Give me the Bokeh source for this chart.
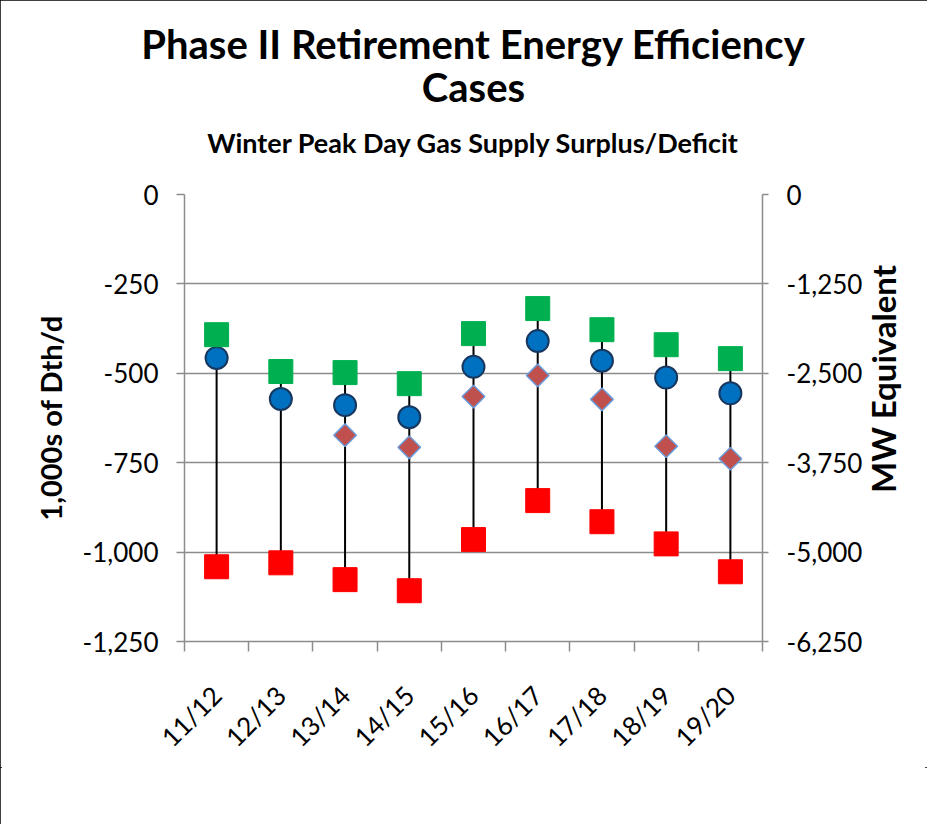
import math
from bokeh.plotting import figure
from bokeh.layouts import column
from bokeh.models import (Range1d, LinearAxis, FixedTicker, NumeralTickFormatter,
                          Legend, LegendItem, Title, ColumnDataSource)
from bokeh.embed import file_html
from bokeh.resources import INLINE

seasons = ["11/12", "12/13", "13/14", "14/15", "15/16", "16/17", "17/18", "18/19", "19/20"]
maximum = [-1041, -1030, -1077, -1108, -965, -856, -915, -977, -1055]
higher = [-457, -572, -673, -707, -565, -506, -573, -704, -739]
reference = [-457, -572, -589, -623, -482, -410, -465, -512, -556]
nominal = [-392, -495, -498, -529, -389, -319, -378, -420, -459]
left_ticks = [0, -250, -500, -750, -1000, -1250]
right_ticks = [0, -1250, -2500, -3750, -5000, -6250]

FONT = "Lato"
GRAY = "#8c8c8c"

x = [i + 0.5 for i in range(len(seasons))]
boundaries = list(range(len(seasons) + 1))

src = ColumnDataSource(dict(x=x, season=seasons, maximum=maximum, higher=higher,
                            reference=reference, nominal=nominal,
                            rot=[math.pi / 4] * len(seasons)))

p = figure(frame_width=578, frame_height=447,
           x_range=Range1d(0, len(seasons)),
           y_range=Range1d(min(left_ticks), max(left_ticks)),
           output_backend="svg", toolbar_location=None, title=None,
           min_border_left=184, min_border_right=165, min_border_top=192,
           min_border_bottom=126, outline_line_color=None)

p.extra_y_ranges = {"mw": Range1d(min(right_ticks), max(right_ticks))}

# high-low lines
p.segment(x0="x", y0="maximum", x1="x", y1="nominal", source=src,
          line_color="black", line_width=2)

p.scatter("x", "maximum", source=src, marker="square", size=24,
          fill_color="#FF0000", line_color="#FF0000")
p.scatter("x", "higher", source=src, marker="square", size=16, angle="rot",
          fill_color="#C0504D", line_color="#6A9BDB", line_width=1.5)
p.scatter("x", "reference", source=src, marker="circle", size=22,
          fill_color="#0070C0", line_color="#17375E", line_width=2)
p.scatter("x", "nominal", source=src, marker="square", size=24,
          fill_color="#00B050", line_color="#00B050")

# x axis
xa = p.xaxis[0]
xa.ticker = FixedTicker(ticks=x, minor_ticks=boundaries)
xa.major_label_overrides = {xx: s for xx, s in zip(x, seasons)}
xa.major_tick_out = 0
xa.major_tick_in = 0
xa.minor_tick_out = 10
xa.minor_tick_in = 0
xa.minor_tick_line_color = GRAY
xa.minor_tick_line_width = 1.5
xa.axis_line_color = GRAY
xa.axis_line_width = 1.5
xa.major_label_orientation = math.pi / 4
xa.major_label_standoff = 39
xa.major_label_text_font = FONT
xa.major_label_text_font_size = "26px"
xa.major_label_text_color = "black"

# left axis
ya = p.yaxis[0]
ya.ticker = FixedTicker(ticks=left_ticks)
ya.formatter = NumeralTickFormatter(format="0,0")
ya.axis_label = "1,000s of Dth/d"
ya.axis_label_text_font = FONT
ya.axis_label_text_font_style = "bold"
ya.axis_label_text_font_size = "29px"
ya.axis_label_text_color = "black"
ya.axis_label_standoff = 12
ya.major_label_text_font = FONT
ya.major_label_text_font_size = "26px"
ya.major_label_text_color = "black"
ya.major_label_standoff = 18
ya.major_tick_out = 8
ya.major_tick_in = 0
ya.minor_tick_out = 0
ya.minor_tick_in = 0
ya.major_tick_line_color = GRAY
ya.major_tick_line_width = 1.5
ya.axis_line_color = GRAY
ya.axis_line_width = 1.5

# right axis
ra = LinearAxis(y_range_name="mw", ticker=FixedTicker(ticks=right_ticks),
                formatter=NumeralTickFormatter(format="0,0"),
                axis_label="\u2002" * 9 + "MW Equivalent")
ra.axis_label_orientation = math.pi / 2
ra.axis_label_align = "start"
ra.axis_label_text_font = FONT
ra.axis_label_text_font_style = "bold"
ra.axis_label_text_font_size = "33px"
ra.axis_label_text_color = "black"
ra.axis_label_standoff = 18
ra.major_label_text_font = FONT
ra.major_label_text_font_size = "26px"
ra.major_label_text_color = "black"
ra.major_label_standoff = 18
ra.major_tick_out = 6
ra.major_tick_in = 0
ra.minor_tick_out = 0
ra.minor_tick_in = 0
ra.major_tick_line_color = GRAY
ra.major_tick_line_width = 1.5
ra.axis_line_color = GRAY
ra.axis_line_width = 1.5
p.add_layout(ra, "right")

p.xgrid.visible = False
p.ygrid.ticker = FixedTicker(ticks=left_ticks)
p.ygrid.grid_line_color = GRAY
p.ygrid.grid_line_width = 1.5

# titles (first added = closest to plot)
p.add_layout(Title(text="Winter Peak Day Gas Supply Surplus/Deficit", align="center",
                   text_font=FONT, text_font_style="bold", text_font_size="27px",
                   text_color="black", standoff=72), "above")
p.add_layout(Title(text="Cases", align="center", text_font=FONT, text_font_style="bold",
                   text_font_size="40px", text_color="black", standoff=-47), "above")
p.add_layout(Title(text="Phase II Retirement Energy Efficiency", align="center",
                   text_font=FONT, text_font_style="bold", text_font_size="40px",
                   text_color="black", standoff=34), "above")

# legend strip below the chart
leg = figure(width=927, height=57, x_range=Range1d(0, len(seasons)),
             y_range=Range1d(min(left_ticks), max(left_ticks)),
             output_backend="svg", toolbar_location=None, title=None,
             x_axis_location=None, y_axis_location=None, min_border=0,
             outline_line_color=None)
leg.grid.visible = False
k_max = leg.scatter("x", "maximum", source=src, marker="square", size=24,
                    fill_color="#FF0000", line_color="#FF0000", visible=False)
k_hi = leg.scatter("x", "higher", source=src, marker="diamond", size=22,
                   fill_color="#C0504D", line_color="#6A9BDB", line_width=1.5,
                   visible=False)
k_ref = leg.scatter("x", "reference", source=src, marker="circle", size=22,
                    fill_color="#0070C0", line_color="#17375E", line_width=2,
                    visible=False)
k_nom = leg.scatter("x", "nominal", source=src, marker="square", size=24,
                    fill_color="#00B050", line_color="#00B050", visible=False)

legend = Legend(items=[LegendItem(label="Maximum", renderers=[k_max], index=0),
                       LegendItem(label="Higher", renderers=[k_hi], index=0),
                       LegendItem(label="Reference", renderers=[k_ref], index=0),
                       LegendItem(label="Nominal", renderers=[k_nom], index=0)],
                orientation="horizontal", location="center",
                border_line_color=None, background_fill_alpha=0,
                inactive_fill_alpha=0,
                label_text_font=FONT, label_text_font_size="28px",
                label_text_color="black",
                glyph_width=48, glyph_height=50, label_standoff=0, spacing=19,
                padding=0, margin=0)
leg.add_layout(legend, "above")

layout = column(p, leg, spacing=0,
                styles={"outline": "2px solid black", "outline-offset": "-2px"})

open("out.html", "w").write(file_html(layout, INLINE))
